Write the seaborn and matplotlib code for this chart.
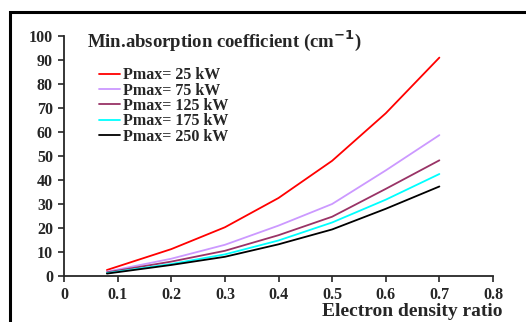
import numpy as np
import pandas as pd
import matplotlib
matplotlib.use("Agg")
import matplotlib.pyplot as plt
import seaborn as sns

# values
ratio = [0.08, 0.2, 0.3, 0.4, 0.5, 0.6, 0.7]
p25 = [2.5, 11.2, 20.3, 32.5, 48.0, 67.8, 91.0]
p75 = [1.8, 7.2, 13.0, 21.0, 30.0, 44.0, 58.7]
p125 = [1.5, 6.0, 10.5, 17.0, 24.7, 36.3, 48.2]
p175 = [1.2, 5.0, 9.0, 14.8, 22.3, 31.8, 42.5]
p250 = [1.0, 4.6, 8.0, 13.2, 19.4, 28.0, 37.3]
labels = ["Pmax= 25 kW", "Pmax= 75 kW", "Pmax= 125 kW", "Pmax= 175 kW", "Pmax= 250 kW"]
colors = ["#ff0000", "#cc99ff", "#993366", "#00ffff", "#000000"]

rows = []
for lab, vals in zip(labels, [p25, p75, p125, p175, p250]):
    for x, y in zip(ratio, vals):
        rows.append({"ratio": x, "coef": y, "power": lab})
df = pd.DataFrame(rows)

sns.set_style("white")
plt.rcParams["font.family"] = ["Liberation Serif", "DejaVu Serif"]
plt.rcParams["font.weight"] = "bold"

fig = plt.figure(figsize=(5.26, 3.22), dpi=100)
ax = fig.add_axes([64/526, 1-276/322, (493-64)/526, (276-36)/322])

sns.lineplot(data=df, x="ratio", y="coef", hue="power", palette=colors,
             hue_order=labels, linewidth=1.3, ax=ax)

ax.set_xlim(0, 0.8)
ax.set_ylim(0, 100)
ax.set_xticks(np.arange(0, 0.81, 0.1))
ax.set_xticklabels(["0", "0.1", "0.2", "0.3", "0.4", "0.5", "0.6", "0.7", "0.8"])
ax.set_yticks(range(0, 101, 10))
ax.tick_params(axis="both", labelsize=11.5, length=4, width=1.2, direction="out",
               left=True, bottom=True, pad=4)
for lab in ax.get_xticklabels() + ax.get_yticklabels():
    lab.set_fontweight("bold")
sns.despine(ax=ax)
ax.spines["left"].set_linewidth(1.3)
ax.spines["bottom"].set_linewidth(1.3)
ax.set_xlabel("")
ax.set_ylabel("")

ax.text(0.054, 1.03, "Min.absorption coefficient (cm$^{\\mathbf{-1}}$)", transform=ax.transAxes,
        fontsize=13.5, fontweight="bold", va="top", ha="left")
fig.text(503/526, 1-312/322, "Electron density ratio", fontsize=14, fontweight="bold",
         ha="right", va="center")

leg = ax.legend(loc="upper left", bbox_to_anchor=(0.082, 0.87), frameon=False,
                fontsize=11.5, handlelength=1.3, handletextpad=0.2, labelspacing=-0.04,
                borderpad=0, borderaxespad=0)
for t in leg.get_texts():
    t.set_fontweight("bold")

# black frame around the figure (left and top visible)
fig.add_artist(plt.Rectangle((10/526, -0.1), 1.2, 1 - 12/322 + 0.1, transform=fig.transFigure,
                             fill=False, edgecolor="black", linewidth=2.2))

fig.savefig("out.png", dpi=100)
